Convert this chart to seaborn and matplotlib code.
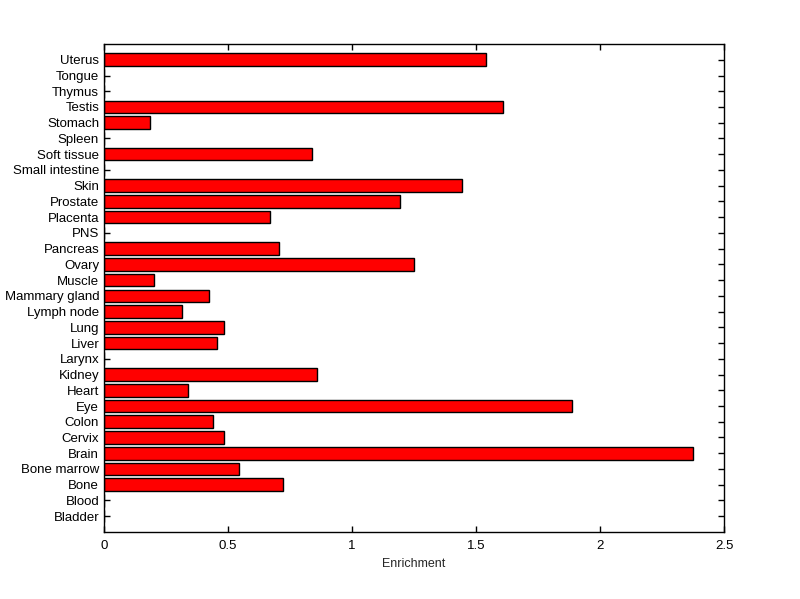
import matplotlib
matplotlib.use('Agg')
import matplotlib.pyplot as plt
import seaborn as sns
import pandas as pd

# tissues from top to bottom, as in the picture
tissues = ['Uterus', 'Tongue', 'Thymus', 'Testis', 'Stomach', 'Spleen',
           'Soft tissue', 'Small intestine', 'Skin', 'Prostate', 'Placenta',
           'PNS', 'Pancreas', 'Ovary', 'Muscle', 'Mammary gland', 'Lymph node',
           'Lung', 'Liver', 'Larynx', 'Kidney', 'Heart', 'Eye', 'Colon',
           'Cervix', 'Brain', 'Bone marrow', 'Bone', 'Blood', 'Bladder']
enrichment = [1.539, 0.0, 0.0, 1.607, 0.185, 0.0,
              0.840, 0.0, 1.443, 1.194, 0.671,
              0.0, 0.707, 1.250, 0.200, 0.425, 0.313,
              0.482, 0.457, 0.0, 0.860, 0.337, 1.886, 0.441,
              0.482, 2.377, 0.546, 0.723, 0.0, 0.0]
x_ticks = [0, 0.5, 1, 1.5, 2, 2.5]
x_tick_labels = ['0', '0.5', '1', '1.5', '2', '2.5']

df = pd.DataFrame({'Tissue': tissues, 'Enrichment': enrichment})

sns.set_style('white')
plt.rcParams['font.family'] = ['Liberation Sans', 'DejaVu Sans']

fig = plt.figure(figsize=(8, 5.99), dpi=100)
ax = fig.add_axes([0.13, 0.112, 0.775, 0.8145])

sns.barplot(data=df, x='Enrichment', y='Tissue', order=tissues, orient='h',
            color='#ff0000', saturation=1, edgecolor='black', linewidth=1,
            width=0.8, ax=ax)

ax.set_xlim(0, 2.5)
# one empty slot above and below, like matlab's barh
ax.set_ylim(len(tissues), -1)
ax.set_xticks(x_ticks)
ax.set_xticklabels(x_tick_labels)
ax.set_xlabel('Enrichment', fontsize=9)
ax.set_ylabel('')

for s in ax.spines.values():
    s.set_visible(True)
    s.set_color('black')
    s.set_linewidth(1)

ax.tick_params(axis='both', which='both', direction='in', length=4.5, width=1,
               colors='black', labelsize=9.5, top=True, right=True,
               bottom=True, left=True)
ax.tick_params(axis='x', pad=6)

fig.savefig('out.png', dpi=100, facecolor='white')
